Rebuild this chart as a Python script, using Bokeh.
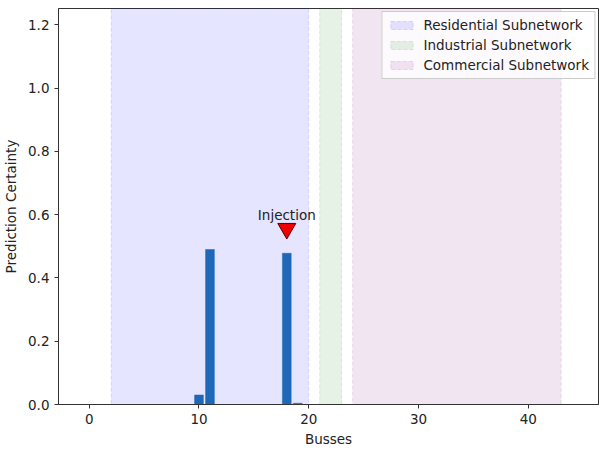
from bokeh.plotting import figure
from bokeh.models import Range1d, FixedTicker, Legend, LegendItem, NumeralTickFormatter
from bokeh.core.properties import value
from bokeh.embed import file_html
from bokeh.resources import INLINE

# data
buses = [10, 11, 18, 19]
certainty = [0.03, 0.49, 0.478, 0.004]
injection_bus = 18
injection_value = 0.478
region_names = ["Residential Subnetwork", "Industrial Subnetwork", "Commercial Subnetwork"]
region_start = [2, 21, 24]
region_end = [20, 23, 43]
region_colors = ["#0000ff", "#008000", "#800080"]
x_ticks = [0, 10, 20, 30, 40]
y_ticks = [0.0, 0.2, 0.4, 0.6, 0.8, 1.0, 1.2]

FONT = "DejaVu Sans"

p = figure(width=600, height=449, output_backend="svg", toolbar_location=None,
           x_range=Range1d(-2.8, 46.4), y_range=Range1d(0, 1.252),
           min_border_left=50, min_border_right=2, min_border_top=8, min_border_bottom=40)
p.xgrid.visible = False
p.ygrid.visible = False
p.outline_line_color = "#333333"
p.outline_line_width = 1
p.background_fill_color = "white"

items = []
for name, s, e, c in zip(region_names, region_start, region_end, region_colors):
    r = p.quad(left=[s], right=[e], bottom=[0], top=[1.252], fill_color=c, fill_alpha=0.1,
               line_color=c, line_alpha=0.12, line_dash="4 2", line_width=1)
    items.append(LegendItem(label=name, renderers=[r]))

p.vbar(x=buses, top=certainty, width=0.8, bottom=0, fill_color="#1f67b8", line_color="#1f67b8", line_width=0.5)

p.scatter(x=[injection_bus], y=[injection_value + 0.078], marker="inverted_triangle", size=18,
          fill_color="#ee0000", line_color="#550000", line_width=1)
p.text(x=[injection_bus], y=[0.6], text=["Injection"], text_align="center", text_baseline="middle",
       text_font=value(FONT), text_font_size="13.5px", text_color="#222222")

legend = Legend(items=items, location="top_right", label_text_font=FONT, label_text_font_size="13.5px",
                label_text_color="#222222", glyph_width=28, glyph_height=10, label_standoff=8,
                spacing=4, padding=5, margin=3, border_line_color="#cccccc", border_line_alpha=1,
                background_fill_alpha=0.8, label_height=14)
p.add_layout(legend)

for ax in (p.xaxis[0], p.yaxis[0]):
    ax.axis_label_text_font = FONT
    ax.axis_label_text_font_style = "normal"
    ax.axis_label_text_font_size = "13.5px"
    ax.axis_label_text_color = "#222222"
    ax.major_label_text_font = FONT
    ax.major_label_text_font_size = "13.5px"
    ax.major_label_text_color = "#222222"
    ax.minor_tick_line_color = None
    ax.major_tick_out = 4
    ax.major_tick_in = 0
    ax.axis_line_color = "#333333"
    ax.major_tick_line_color = "#333333"

p.xaxis.ticker = FixedTicker(ticks=x_ticks)
p.yaxis.ticker = FixedTicker(ticks=y_ticks)
p.yaxis.formatter = NumeralTickFormatter(format="0.0")
p.xaxis.axis_label = "Busses"
p.yaxis.axis_label = "Prediction Certainty"
p.xaxis.axis_label_standoff = 4
p.yaxis.axis_label_standoff = 6

open("out.html", "w").write(file_html(p, INLINE))
